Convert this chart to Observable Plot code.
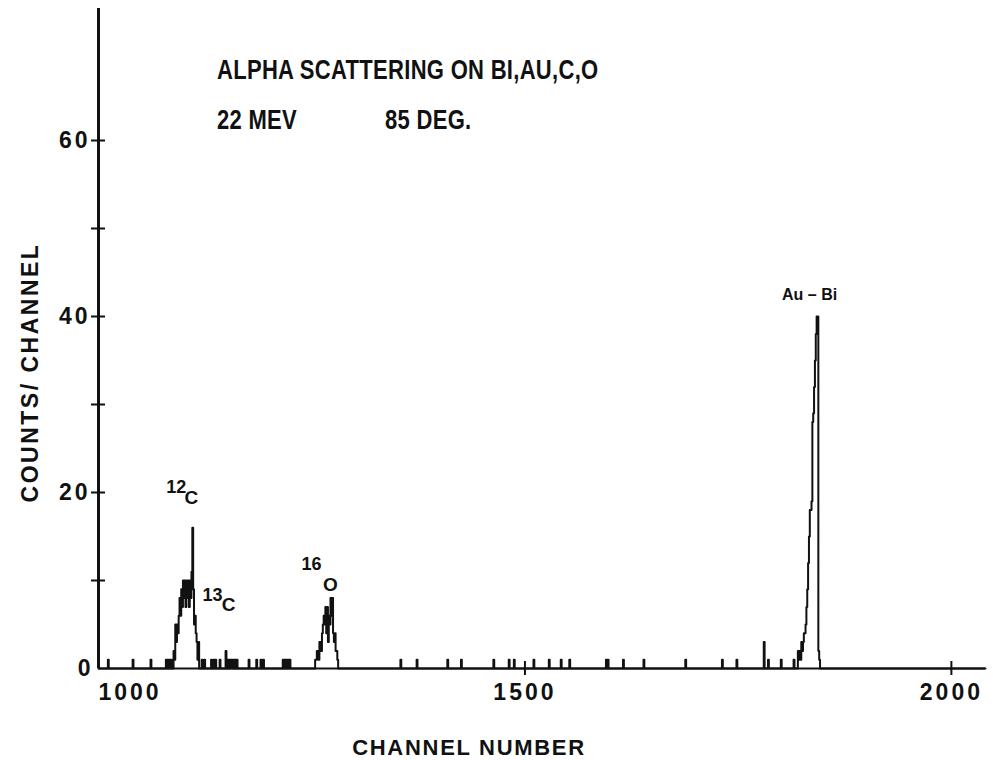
<!DOCTYPE html>
<html><head><meta charset="utf-8">
<script src="https://cdn.jsdelivr.net/npm/d3@7"></script>
<script src="https://cdn.jsdelivr.net/npm/@observablehq/plot@0.6"></script>
<style>
body{margin:0;background:#fff;}
#wrap{position:relative;width:993px;height:760px;background:#fff;}
.ttl{position:absolute;font-family:"Liberation Sans",Arial,sans-serif;font-weight:bold;font-size:22px;color:#111;transform:scaleY(1.25);transform-origin:0 50%;white-space:pre;line-height:1;letter-spacing:0.3px;}
</style></head><body>
<div id="wrap"></div>
<script>
// Spectrum: channel number and counts (step line points)
const channels = [
  1000,
  1011,1012, 1040,1041, 1061,1062,
  1079,1080,1081,1082,1083,1084,1085,1086,
  1088,1089,1090,1091,1092,1093,1094,1095,1096,1097,1098,1099,1100,1101,1102,1103,1104,1105,1106,1107,1108,1109,1110,1111,1112,1113,1114,1115,1116,1117,1118,
  1121,1122, 1124,1125, 1132,1133, 1135,1136, 1137,1138, 1142,1143, 1149,1150,
  1151,1152,1153,1154,1155,1156,1157,1158,1159,1160,1161,1162,1163,
  1176,1177, 1185,1186, 1190,1191, 1193,1194,
  1216,1217,1218,1219,1220,1221,1222,1223,1224,1225,
  1254,1256,1258,1259,1261,1262,1263,1264,1265,1266,1267,1268,1269,1270,1271,1272,1273,1274,1275,1276,1277,1278,1279,1280,1281,
  1354,1355, 1373,1374, 1409,1410, 1425,1426, 1463,1464, 1481,1482, 1487,1488, 1510,1511, 1528,1529,
  1542,1543, 1552,1553, 1595,1596,1597,1598, 1615,1616, 1639,1640, 1688,1689, 1731,1732, 1748,1749,
  1780,1781, 1785,1786, 1800,1801, 1815,1816,
  1820,1821,1822,1823,1824,1825,1826,1827,1828,1829,1830,1831,1832,1833,1834,1835,1836,1837,1838,1839,1840,1841,1842,1843,1844,1845,1846,
  2040
];
const counts = [
  0,
  1,0, 1,0, 1,0,
  1,0,1,0,1,0,1,0,
  2,1,5,3,5,4,6,8,6,9,7,10,8,10,7,10,8,10,7,10,8,11,16,9,5,6,4,3,1,3,0,
  1,0, 1,0, 1,0, 1,0, 1,0, 1,0, 2,0,
  1,0,1,0,1,1,0,1,0,1,0,1,0,
  1,0, 1,0, 1,0, 1,0,
  1,0,1,0,1,0,1,0,1,0,
  1,2,1,3,2,4,5,6,5,7,4,7,3,6,5,8,6,8,4,3,4,2,2,1,0,
  1,0, 1,0, 1,0, 1,0, 1,0, 1,0, 1,0, 1,0, 1,0,
  1,0, 1,0, 1,0,1,0, 1,0, 1,0, 1,0, 1,0, 1,0,
  3,0, 1,0, 1,0, 1,0,
  2,1,2,1,3,2,3,4,4,5,7,9,12,15,18,18,19,28,29,32,35,38,40,40,2,1,0,
  0
];

// Axis ticks and labels
const xTickValues = [1500, 2000];
const xFirstLabel = [1000];
const xOtherLabels = [1500, 2000];
const yTickValues = [10, 20, 30, 40, 50, 60];
const yLabelValues = [0, 20, 40, 60];

// Peak annotations
const peakLabelText = ["12", "C", "13", "C", "16", "O", "Au – Bi"];
const peakLabelChannel = [1110, 1110, 1149, 1149, 1272, 1272, 1842];

const titleLine1 = "ALPHA SCATTERING ON BI,AU,C,O";
const titleLine2a = "22 MEV";
const titleLine2b = "85 DEG.";
const xAxisLabel = "CHANNEL NUMBER";
const yAxisLabel = "COUNTS/ CHANNEL";

// ---- build ----
const spectrum = channels.map((c, i) => ({channel: c, count: counts[i]}));
const peakLabels = peakLabelText.map((t, i) => ({
  text: t, channel: peakLabelChannel[i], count: counts[channels.indexOf(peakLabelChannel[i])]
}));
// layout offsets (px) and font sizes for each annotation
const labelOffsets = [[-16, -40], [-1, -30], [-13, -56], [3, -46], [-19, -34], [0, -13], [-7, -22]];
const labelSizes = [18, 19, 18, 19, 18, 19, 16];

const ink = "#111";
const labelMarks = peakLabels.map((d, i) => Plot.text([d], {
  x: "channel", y: "count", text: "text",
  dx: labelOffsets[i][0], dy: labelOffsets[i][1],
  fontSize: labelSizes[i], fill: ink, lineAnchor: "middle"
}));

const chart = Plot.plot({
  width: 993, height: 760,
  marginLeft: 98, marginRight: 8, marginTop: 8, marginBottom: 92,
  x: {domain: [1000, 2040]},
  y: {domain: [0, 75]},
  style: {fontFamily: '"Liberation Sans", Arial, sans-serif', fontWeight: "bold", color: ink, background: "#fff", overflow: "visible"},
  marks: [
    Plot.ruleY([0], {stroke: ink, strokeWidth: 2}),
    Plot.ruleX([1000], {stroke: ink, strokeWidth: 3}),
    Plot.ruleY(yTickValues, {y: d => d, x1: 1000, x2: 1000, insetLeft: -7, insetRight: -7, stroke: ink, strokeWidth: 2}),
    Plot.ruleX(xTickValues, {x: d => d, y1: 0, y2: 0, insetTop: -7, insetBottom: -7, stroke: ink, strokeWidth: 2}),
    Plot.line(spectrum, {x: "channel", y: "count", curve: "step-after", stroke: ink, strokeWidth: 2}),
    Plot.axisY(yLabelValues, {tickSize: 0, tickPadding: 8, fontSize: 23, label: null, fill: ink, tickFormat: "d"}),
    Plot.axisX(xFirstLabel, {tickSize: 0, tickPadding: 15, fontSize: 23, label: null, textAnchor: "start", fill: ink, tickFormat: "d"}),
    Plot.axisX(xOtherLabels, {tickSize: 0, tickPadding: 15, fontSize: 23, label: null, fill: ink, tickFormat: "d"}),
    Plot.text([xAxisLabel], {frameAnchor: "bottom", textAnchor: "middle", dx: -73, dy: 79, fontSize: 22, lineAnchor: "middle", fill: ink}),
    Plot.text([yAxisLabel], {frameAnchor: "left", textAnchor: "middle", rotate: -90, dx: -68, dy: 34, fontSize: 23, lineAnchor: "middle", fill: ink}),
    ...labelMarks
  ]
});

// letter spacing of the hand lettering
const spacing = new Map([[xAxisLabel, "1.7px"], [yAxisLabel, "2.5px"]]);
chart.querySelectorAll("text").forEach(t => {
  const s = t.textContent;
  if (spacing.has(s)) t.style.letterSpacing = spacing.get(s);
  else if (/^\d+$/.test(s) && s.length > 1 && !peakLabelText.includes(s)) t.style.letterSpacing = "3px";
});

const wrap = document.getElementById("wrap");
wrap.appendChild(chart);
function addTitle(text, left, top) {
  const d = document.createElement("div");
  d.className = "ttl";
  d.textContent = text;
  d.style.left = left + "px";
  d.style.top = top + "px";
  wrap.appendChild(d);
}
addTitle(titleLine1, 217, 59);
addTitle(titleLine2a, 217, 109);
addTitle(titleLine2b, 385, 109);
</script>
</body></html>
